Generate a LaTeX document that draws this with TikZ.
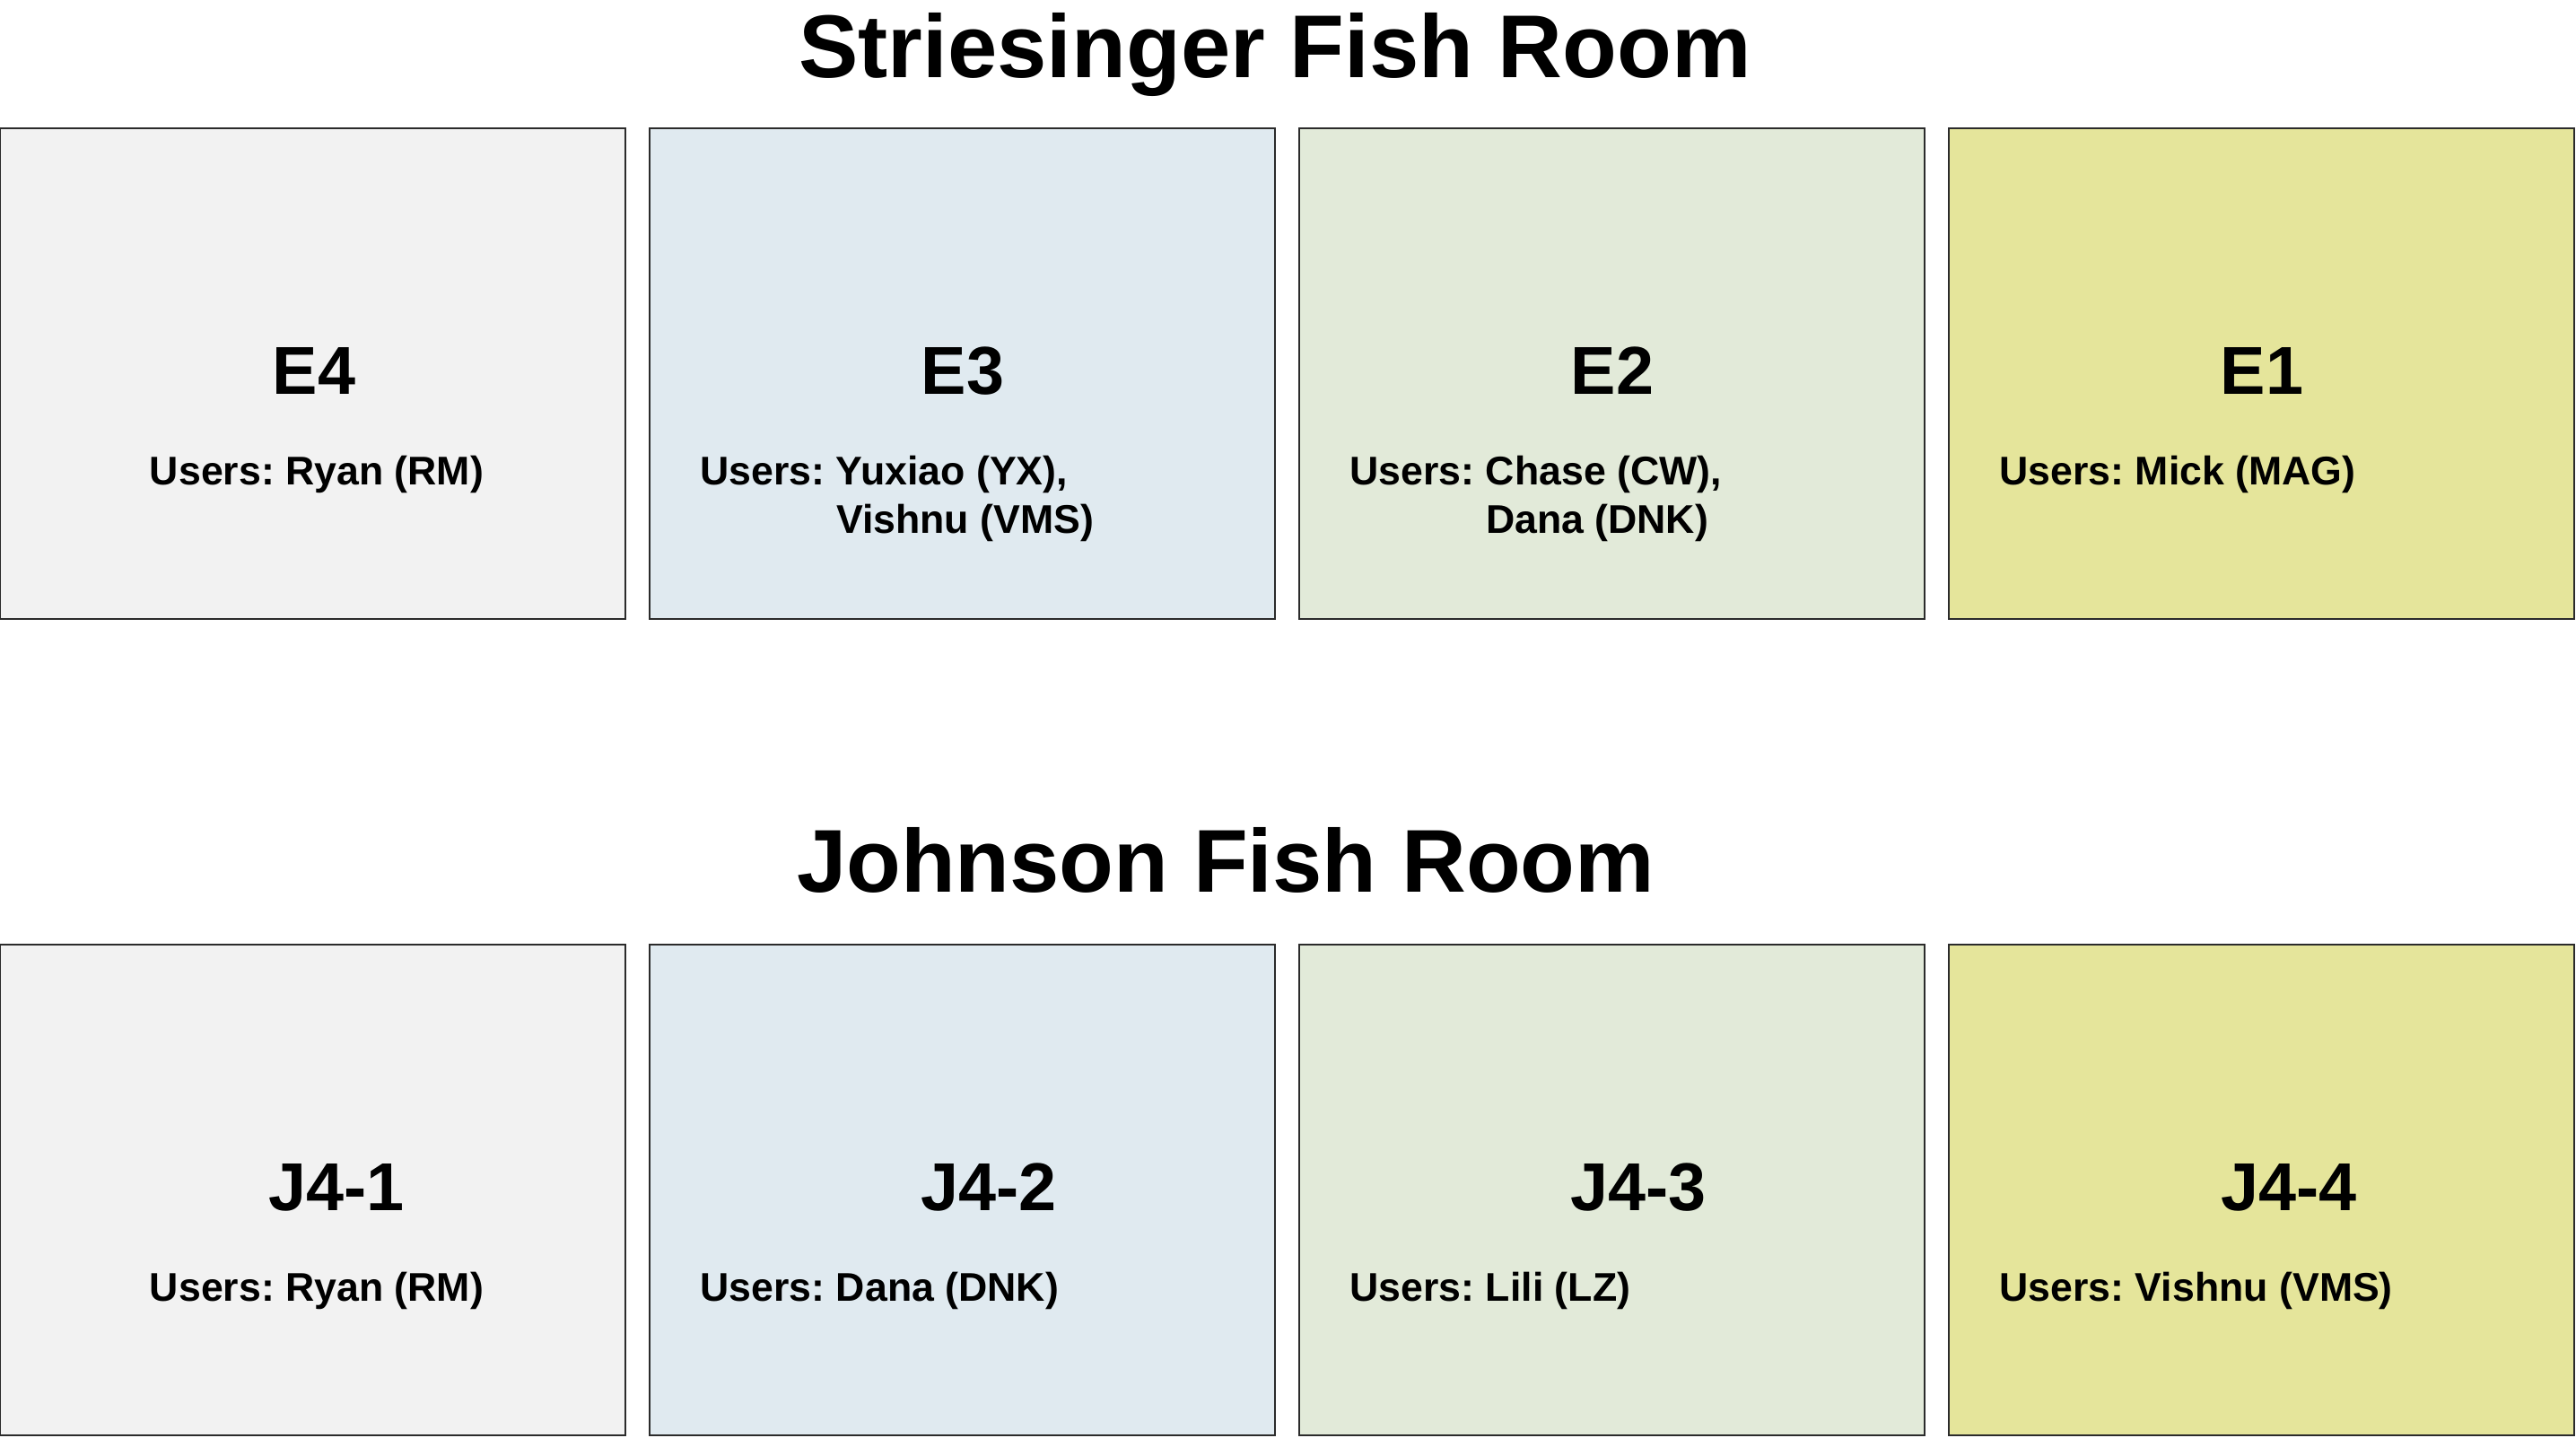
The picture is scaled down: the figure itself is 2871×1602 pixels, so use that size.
\documentclass[tikz,border=0pt]{standalone}
\usepackage{fontspec}
\setmainfont{Liberation Sans}
\frenchspacing
\definecolor{tankgray}{HTML}{F2F2F2}
\definecolor{tankblue}{HTML}{E0EAF0}
\definecolor{tankgreen}{HTML}{E2EAD9}
\definecolor{tankyellow}{HTML}{E5E59B}
\definecolor{tankline}{HTML}{2B2B2B}

\begin{document}
\begin{tikzpicture}[x=0.1mm, y=-0.1mm,
    room/.style={draw=tankline, line width=0.22mm, minimum width=69.7mm, minimum height=54.7mm, inner sep=0pt},
    roomtitle/.style={font=\fontsize{28.3}{32}\selectfont\bfseries, inner sep=0pt},
    tankname/.style={font=\fontsize{21.5}{25}\selectfont\bfseries, inner sep=0pt},
    users/.style={font=\fontsize{12.7}{15.3}\selectfont\bfseries, inner sep=0pt, align=left}]
    \useasboundingbox (0,0) rectangle (2871,1602);

    % Striesinger room
    \node[roomtitle, anchor=base] (striesinger) at (1421,86) {Striesinger Fish Room};
    \node[room, fill=tankgray] (e4) at (348.5,416.5) {};
    \node[room, fill=tankblue] (e3) at (1072.5,416.5) {};
    \node[room, fill=tankgreen] (e2) at (1796.5,416.5) {};
    \node[room, fill=tankyellow] (e1) at (2520.5,416.5) {};

    \node[tankname, anchor=base] (e4name) at (350,439) {E4};
    \node[tankname, anchor=base] (e3name) at (1073,439) {E3};
    \node[tankname, anchor=base] (e2name) at (1797,439) {E2};
    \node[tankname, anchor=base] (e1name) at (2521,439) {E1};

    % two-line lists sit on the baseline of their last line
    \node[users, anchor=base] (e4users) at (353,540) {Users: Ryan (RM)};
    \node[users, anchor=base west] (e3users) at (780,594) {Users: Yuxiao (YX),\\\phantom{Users:\ }Vishnu (VMS)};
    \node[users, anchor=base west] (e2users) at (1504,594) {Users: Chase (CW),\\\phantom{Users:\ }Dana (DNK)};
    \node[users, anchor=base west] (e1users) at (2228,540) {Users: Mick (MAG)};

    % Johnson room
    \node[roomtitle, anchor=base] (johnson) at (1366,994) {Johnson Fish Room};
    \node[room, fill=tankgray] (j41) at (348.5,1326.5) {};
    \node[room, fill=tankblue] (j42) at (1072.5,1326.5) {};
    \node[room, fill=tankgreen] (j43) at (1796.5,1326.5) {};
    \node[room, fill=tankyellow] (j44) at (2520.5,1326.5) {};

    \node[tankname, anchor=base] (j41name) at (375,1349) {J4-1};
    \node[tankname, anchor=base] (j42name) at (1102,1349) {J4-2};
    \node[tankname, anchor=base] (j43name) at (1826,1349) {J4-3};
    \node[tankname, anchor=base] (j44name) at (2551,1349) {J4-4};

    \node[users, anchor=base] (j41users) at (353,1450) {Users: Ryan (RM)};
    \node[users, anchor=base west] (j42users) at (780,1450) {Users: Dana (DNK)};
    \node[users, anchor=base west] (j43users) at (1504,1450) {Users: Lili (LZ)};
    \node[users, anchor=base west] (j44users) at (2228,1450) {Users: Vishnu (VMS)};
\end{tikzpicture}
\end{document}
